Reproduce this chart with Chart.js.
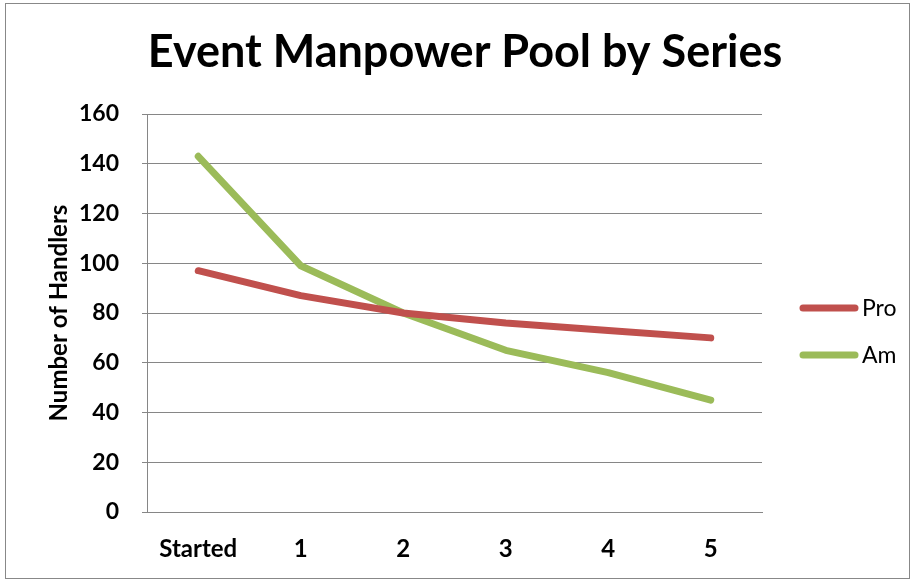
<!DOCTYPE html>
<html>
<head>
<meta charset="utf-8">
<script src="https://cdn.jsdelivr.net/npm/chart.js@4/dist/chart.umd.min.js"></script>
<style>
  html, body { margin: 0; padding: 0; background: #fff; }
  #wrap { position: relative; width: 917px; height: 580px; }
  #frame { position: absolute; left: 5px; top: 3px; width: 903px; height: 574px; border: 1px solid #888; pointer-events: none; }
  canvas { position: absolute; left: 0; top: 0; }
</style>
</head>
<body>
<div id="wrap">
  <canvas id="chart" width="917" height="580"></canvas>
  <div id="frame"></div>
</div>
<script>
// Chart data
const categories = ['Started', '1', '2', '3', '4', '5'];
const proValues = [97, 87, 80, 76, 73, 70];
const amValues = [143, 99, 80, 65, 56, 45];
const yTicks = [0, 20, 40, 60, 80, 100, 120, 140, 160];
const chartTitle = 'Event Manpower Pool by Series';

const FONT = 'Lato, "Open Sans", sans-serif';

// Title centred on the whole frame (the built-in one centres between the paddings)
const frameTitle = {
  id: 'frameTitle',
  afterDraw(chart) {
    const { ctx } = chart;
    ctx.save();
    ctx.fillStyle = '#000';
    ctx.font = 'bold 45px ' + FONT;
    ctx.textAlign = 'center';
    ctx.textBaseline = 'alphabetic';
    ctx.fillText(chartTitle, 465, 67);
    ctx.restore();
  }
};

// Legend drawn to the right of the plot, Excel style (line + label)
const sideLegend = {
  id: 'sideLegend',
  afterDraw(chart) {
    const { ctx, chartArea } = chart;
    const mid = (chartArea.top + chartArea.bottom) / 2;
    const x0 = chartArea.right + 38;
    chart.data.datasets.forEach((ds, i) => {
      const y = mid - 5 + i * 47;
      ctx.save();
      ctx.strokeStyle = ds.borderColor;
      ctx.lineWidth = 7;
      ctx.lineCap = 'round';
      ctx.beginPath();
      ctx.moveTo(x0 + 3, y);
      ctx.lineTo(x0 + 55, y);
      ctx.stroke();
      ctx.fillStyle = '#000';
      ctx.font = '23px ' + FONT;
      ctx.textBaseline = 'middle';
      ctx.fillText(ds.label, x0 + 62, y + 1);
      ctx.restore();
    });
  }
};

new Chart(document.getElementById('chart'), {
  type: 'line',
  data: {
    labels: categories,
    datasets: [
      { label: 'Pro', data: proValues, borderColor: '#C0504D', backgroundColor: '#C0504D' },
      { label: 'Am', data: amValues, borderColor: '#9BBB59', backgroundColor: '#9BBB59' }
    ]
  },
  options: {
    responsive: false,
    animation: false,
    layout: { padding: { left: 45, right: 155, top: 114, bottom: 0 } },
    elements: {
      line: { borderWidth: 7, tension: 0, borderCapStyle: 'round', borderJoinStyle: 'round' },
      point: { radius: 0, hoverRadius: 0 }
    },
    plugins: {
      legend: { display: false },
      tooltip: { enabled: false },
      title: { display: false }
    },
    scales: {
      x: {
        offset: true,
        grid: { display: false },
        border: { color: '#868686', width: 1 },
        ticks: { color: '#000', padding: 15, font: { family: FONT, size: 24, weight: 'bold' } },
        afterFit: s => { s.height = 68; }
      },
      y: {
        min: 0,
        max: 160,
        afterBuildTicks: s => { s.ticks = yTicks.map(v => ({ value: v })); },
        grid: { color: '#868686', lineWidth: 1, tickLength: 5 },
        border: { color: '#868686', width: 1 },
        ticks: { color: '#000', padding: 23, font: { family: FONT, size: 23, weight: 'bold' } },
        title: {
          display: true,
          text: 'Number of Handlers',
          color: '#000',
          padding: 0,
          font: { family: FONT, size: 24, weight: 'bold' }
        },
        afterFit: s => { s.width = 102; }
      }
    }
  },
  plugins: [frameTitle, sideLegend]
});
</script>
</body>
</html>
